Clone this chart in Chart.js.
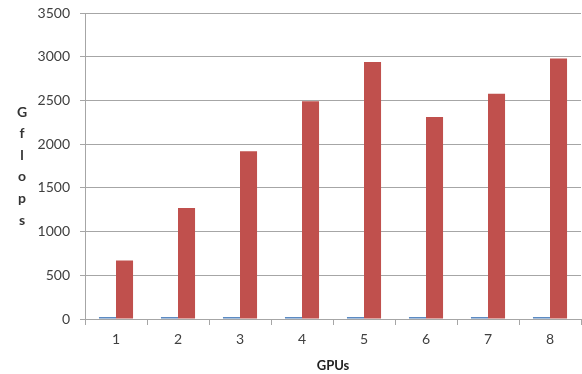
<!DOCTYPE html>
<html>
<head>
<meta charset="utf-8">
<script src="https://cdn.jsdelivr.net/npm/chart.js@4/dist/chart.umd.min.js"></script>
<style>
  html, body { margin: 0; padding: 0; background: #fff; }
  #wrap { width: 582px; height: 374px; }
</style>
</head>
<body>
<div id="wrap"><canvas id="c"></canvas></div>
<script>
// GPU counts along the x axis
const gpus = ['1', '2', '3', '4', '5', '6', '7', '8'];
// Baseline throughput (Gflops)
const baseline = [22, 22, 22, 22, 22, 22, 22, 22];
// Multi-GPU throughput (Gflops)
const multiGpu = [670, 1270, 1920, 2490, 2940, 2310, 2575, 2980];
// Value axis range
const yMax = 3500;
const yStep = 500;

const axisTitleY = 'Gflops';
const axisTitleX = 'GPUs';

const labelFont = { family: 'Lato, "Open Sans", sans-serif', size: 14 };
const gridGray = '#a6a6a6';

// Draws the value-axis title as letters stacked one above another
const stackedTitle = {
  id: 'stackedTitle',
  afterDraw(chart) {
    const ctx = chart.ctx;
    ctx.save();
    ctx.font = 'bold 14px Lato, "Open Sans", sans-serif';
    ctx.fillStyle = '#333';
    ctx.textAlign = 'center';
    ctx.textBaseline = 'middle';
    const chars = axisTitleY.split('');
    const step = 21.6;
    const mid = 166;
    const start = mid - step * (chars.length - 1) / 2;
    chars.forEach((ch, i) => ctx.fillText(ch, 22, start + i * step));
    ctx.restore();
  }
};

new Chart(document.getElementById('c'), {
  type: 'bar',
  data: {
    labels: gpus,
    datasets: [
      { label: 'Baseline', data: baseline, backgroundColor: '#4F81BD' },
      { label: 'Multi-GPU', data: multiGpu, backgroundColor: '#C0504D' }
    ]
  },
  options: {
    responsive: true,
    maintainAspectRatio: false,
    animation: false,
    events: [],
    layout: { padding: { top: 13, right: 1, left: 0, bottom: 0 } },
    datasets: { bar: { categoryPercentage: 0.55, barPercentage: 1.0 } },
    plugins: {
      legend: { display: false },
      tooltip: { enabled: false }
    },
    scales: {
      x: {
        offset: true,
        grid: {
          offset: true,
          drawOnChartArea: false,
          color: gridGray,
          tickLength: 6
        },
        border: { color: gridGray },
        ticks: { color: '#404040', font: labelFont, padding: 6 },
        title: {
          display: true,
          text: axisTitleX,
          color: '#222',
          font: { family: 'Lato, "Open Sans", sans-serif', size: 13, weight: 'bold' },
          padding: { top: 5, bottom: 0 }
        },
        afterFit(scale) { scale.height = 55; }
      },
      y: {
        min: 0,
        max: yMax,
        grid: { color: gridGray, tickLength: 5 },
        border: { color: gridGray },
        ticks: {
          stepSize: yStep,
          color: '#404040',
          font: labelFont,
          padding: 10,
          callback: (v) => String(v)
        },
        afterFit(scale) {
          scale.width = 85;
          scale.paddingTop = 0;
          scale.paddingBottom = 0;
        }
      }
    }
  },
  plugins: [stackedTitle]
});
</script>
</body>
</html>
